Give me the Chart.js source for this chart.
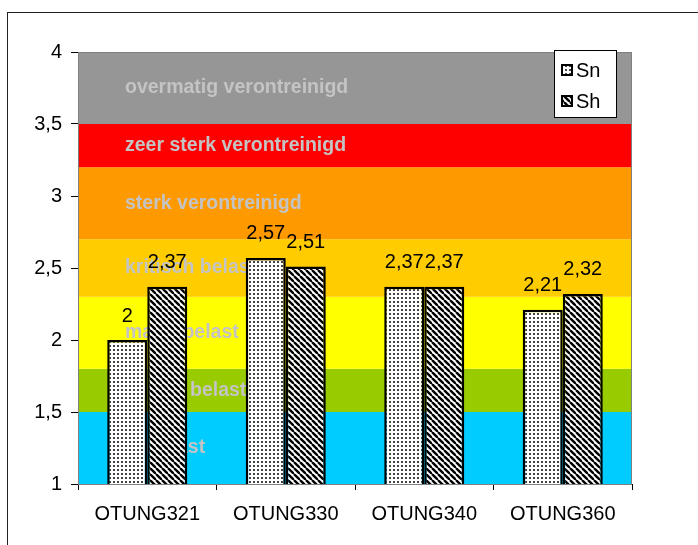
<!DOCTYPE html>
<html>
<head>
<meta charset="utf-8">
<script src="https://cdn.jsdelivr.net/npm/chart.js@4/dist/chart.umd.min.js"></script>
<style>
  html, body { margin: 0; padding: 0; background: #fff; overflow: hidden; }
  #wrap { position: relative; width: 698px; height: 545px; }
  #frame { position: absolute; left: 7px; top: 12px; width: 720px; height: 600px; border: 1px solid #222; }
  #chart { position: absolute; left: 0; top: 0; }
</style>
</head>
<body>
<div id="wrap">
  <div id="frame"></div>
  <canvas id="chart" width="698" height="545"></canvas>
</div>
<script>
// Données
const categories = ['OTUNG321', 'OTUNG330', 'OTUNG340', 'OTUNG360'];
const snValues   = [2, 2.57, 2.37, 2.21];
const shValues   = [2.37, 2.51, 2.37, 2.32];
const yTicks     = [1, 1.5, 2, 2.5, 3, 3.5, 4];

// Klassen (achtergrondbanden)
const bandLabels = ['onbelast', 'gering belast', 'matig belast', 'kritisch belast',
                    'sterk verontreinigd', 'zeer sterk verontreinigd', 'overmatig verontreinigd'];
const bandFrom   = [1, 1.5, 1.8, 2.3, 2.7, 3.2, 3.5];
const bandTo     = [1.5, 1.8, 2.3, 2.7, 3.2, 3.5, 4];

// Styles
const BAND_COLORS = ['#00ccff', '#99cc00', '#ffff00', '#ffcc00', '#ff9900', '#ff0000', '#969696'];
const FONT = 'Arial, "Liberation Sans", sans-serif';
const fmt = v => String(v).replace('.', ',');

// Motifs de remplissage
function dotPattern() {
  const c = document.createElement('canvas');
  c.width = 4; c.height = 4;
  const x = c.getContext('2d');
  x.fillStyle = '#fff'; x.fillRect(0, 0, 4, 4);
  x.fillStyle = '#444'; x.fillRect(1, 1, 2, 2);
  return x.createPattern(c, 'repeat');
}
function stripePattern() {
  const s = 6;
  const c = document.createElement('canvas');
  c.width = s; c.height = s;
  const x = c.getContext('2d');
  x.fillStyle = '#fff'; x.fillRect(0, 0, s, s);
  x.strokeStyle = '#000'; x.lineWidth = 2.4;
  for (const o of [-s, 0, s]) {
    x.beginPath(); x.moveTo(o, 0); x.lineTo(o + s, s); x.stroke();
  }
  return x.createPattern(c, 'repeat');
}
const SN_FILL = dotPattern();
const SH_FILL = stripePattern();

// Banden + tekst achter de staven
const bandsPlugin = {
  id: 'bands',
  beforeDatasetsDraw(chart) {
    const { ctx, chartArea: a, scales: { y } } = chart;
    ctx.save();
    bandFrom.forEach((from, i) => {
      const top = y.getPixelForValue(bandTo[i]);
      const bot = y.getPixelForValue(from);
      ctx.fillStyle = BAND_COLORS[i];
      ctx.fillRect(a.left, top, a.right - a.left, bot - top);
    });
    ctx.strokeStyle = '#808080'; ctx.lineWidth = 1;
    ctx.strokeRect(a.left + 0.5, a.top + 0.5, a.right - a.left - 1, a.bottom - a.top);
    ctx.font = 'bold 19.5px ' + FONT;
    ctx.fillStyle = '#c4c4c4';
    ctx.textBaseline = 'middle';
    ctx.textAlign = 'left';
    bandLabels.forEach((t, i) => {
      const mid = y.getPixelForValue((bandFrom[i] + bandTo[i]) / 2);
      ctx.fillText(t, a.left + 47, mid);
    });
    ctx.restore();
  }
};

// Valeurs au-dessus des barres + légende
const labelsPlugin = {
  id: 'valueLabels',
  afterDatasetsDraw(chart) {
    const { ctx } = chart;
    ctx.save();
    ctx.font = '20px ' + FONT;
    ctx.fillStyle = '#000';
    ctx.textAlign = 'center';
    ctx.textBaseline = 'middle';
    chart.data.datasets.forEach((ds, di) => {
      chart.getDatasetMeta(di).data.forEach((bar, i) => {
        ctx.fillText(fmt(ds.data[i]), bar.x, bar.y - 24);
      });
    });

    // légende
    const lx = 554, ly = 50, lw = 62, lh = 67;
    ctx.fillStyle = '#fff';
    ctx.fillRect(lx, ly, lw, lh);
    ctx.strokeStyle = '#000'; ctx.lineWidth = 1;
    ctx.strokeRect(lx + 0.5, ly + 0.5, lw, lh);
    ctx.textAlign = 'left';
    chart.data.datasets.forEach((ds, di) => {
      const cy = ly + 20 + di * 31;
      ctx.fillStyle = ds.backgroundColor;
      ctx.fillRect(562, cy - 5, 10, 10);
      ctx.strokeStyle = '#000'; ctx.lineWidth = 2;
      ctx.strokeRect(562, cy - 5, 10, 10);
      ctx.fillStyle = '#000';
      ctx.fillText(ds.label, 576, cy + 1);
    });
    ctx.restore();
  }
};

new Chart(document.getElementById('chart'), {
  type: 'bar',
  data: {
    labels: categories,
    datasets: [
      { label: 'Sn', data: snValues, backgroundColor: SN_FILL, borderColor: '#000', borderWidth: 2.5 },
      { label: 'Sh', data: shValues, backgroundColor: SH_FILL, borderColor: '#000', borderWidth: 2.5 },
    ],
  },
  options: {
    responsive: false,
    animation: false,
    events: [],
    layout: { padding: { top: 52, right: 66, left: 0, bottom: 0 } },
    datasets: { bar: { barPercentage: 1, categoryPercentage: 0.578 } },
    plugins: { legend: { display: false }, tooltip: { enabled: false } },
    scales: {
      x: {
        grid: { drawOnChartArea: false, tickLength: 6, color: '#000', offset: true },
        border: { color: '#000', width: 1 },
        ticks: { color: '#000', font: { size: 20, family: FONT }, padding: 12, maxRotation: 0 },
        afterFit(s) { s.height = 61; },
      },
      y: {
        min: 1, max: 4,
        afterBuildTicks(s) { s.ticks = yTicks.map(v => ({ value: v })); },
        grid: { drawOnChartArea: false, tickLength: 7, color: '#000' },
        border: { color: '#000', width: 1 },
        ticks: { color: '#000', font: { size: 20, family: FONT }, padding: 9, callback: v => fmt(v) },
        afterFit(s) { s.width = 78; },
      },
    },
  },
  plugins: [bandsPlugin, labelsPlugin],
});
</script>
</body>
</html>
